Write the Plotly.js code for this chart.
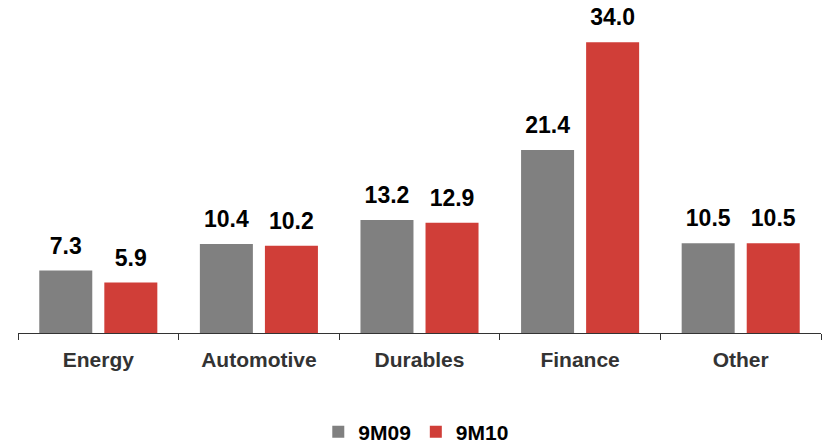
<!DOCTYPE html>
<html>
<head>
<meta charset="utf-8">
<script src="https://cdn.plot.ly/plotly-3.0.1.min.js"></script>
<style>html,body{margin:0;padding:0;background:#fff;}#chart{width:829px;height:443px;}</style>
</head>
<body>
<div id="chart"></div>
<script>
var categories = ["Energy", "Automotive", "Durables", "Finance", "Other"];
var series9M09 = [7.3, 10.4, 13.2, 21.4, 10.5];
var series9M10 = [5.9, 10.2, 12.9, 34.0, 10.5];
var seriesNames = ["9M09", "9M10"];
var seriesColors = ['#808080', '#D03E38'];
var seriesValues = [series9M09, series9M10];

var FONT = 'Liberation Sans, Arial, sans-serif';
var traces = [];
seriesValues.forEach(function (vals, i) {
  traces.push({type: 'bar', name: seriesNames[i], x: categories, y: vals,
    marker: {color: seriesColors[i], line: {width: 0}},
    hoverinfo: 'skip'});
});
seriesValues.forEach(function (vals, i) {
  traces.push({type: 'scatter', mode: 'markers+text', showlegend: false, x: categories, y: vals,
    text: vals.map(function (v) { return v.toFixed(1); }),
    textposition: 'top center', cliponaxis: false,
    marker: {size: 16, opacity: 0},
    textfont: {family: FONT, size: 23, color: '#000', weight: 'bold'},
    hoverinfo: 'skip'});
});

var layout = {
  width: 829, height: 443,
  margin: {l: 18, r: 8, t: 8, b: 110, autoexpand: false},
  paper_bgcolor: '#fff', plot_bgcolor: '#fff',
  barmode: 'group', bargap: 0.19, bargroupgap: 0.185,
  scattermode: 'group', scattergap: 0.19,
  showlegend: true,
  legend: {orientation: 'h', x: 0.496, xanchor: 'center', y: -0.305, yanchor: 'middle',
           font: {family: FONT, size: 21, color: '#000', weight: 'bold'},
           tracegroupgap: 0},
  xaxis: {type: 'category', showline: true, linecolor: '#333', linewidth: 1,
          ticks: 'outside', tickson: 'boundaries', ticklen: 6, tickcolor: '#333',
          ticklabelstandoff: 8,
          tickfont: {family: FONT, size: 21, color: '#333', weight: 'bold'},
          showgrid: false, zeroline: false, fixedrange: true},
  yaxis: {range: [0, 38], visible: false, showgrid: false, zeroline: false, fixedrange: true}
};

Plotly.newPlot('chart', traces, layout, {displayModeBar: false, staticPlot: true});
</script>
</body>
</html>
